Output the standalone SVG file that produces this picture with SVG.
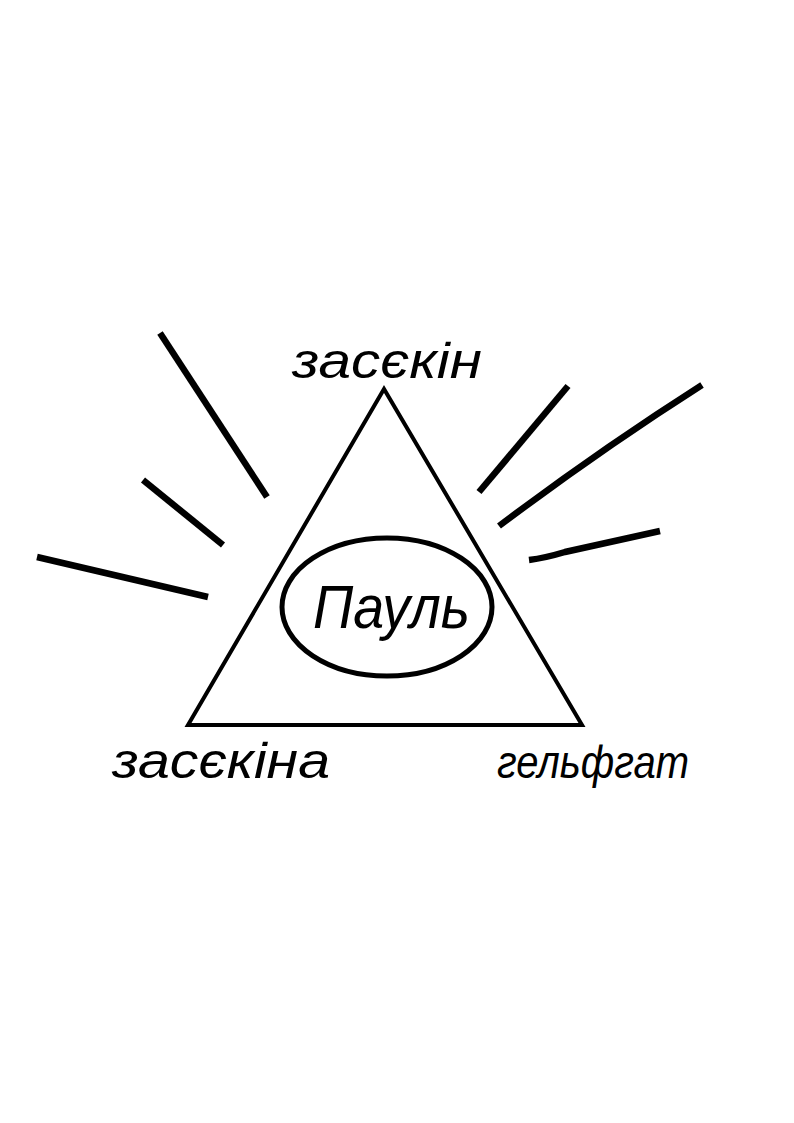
<svg xmlns="http://www.w3.org/2000/svg" width="794" height="1123" viewBox="0 0 794 1123">
<style>
.ray{fill:none;stroke:#000;stroke-width:6.5;stroke-linecap:butt}
.shape{fill:none;stroke:#000}
.hand{font-family:"Liberation Sans","DejaVu Sans",sans-serif;font-style:italic;fill:#000}
</style>
<rect width="794" height="1123" fill="#fff"/>
<g id="rays">
<path class="ray" d="M160,333 L267,497"/>
<path class="ray" d="M143,480 L223,545"/>
<path class="ray" d="M37,557 L208,597"/>
<path class="ray" d="M568,386 L479,492"/>
<path class="ray" d="M702,385 Q600,450 499,526"/>
<path class="ray" d="M660,531 L565,552 Q545,558 529,560"/>
</g>
<g id="triangle">
<polygon class="shape" stroke-width="4" points="384,389 188,725 582,725"/>
</g>
<g id="center">
<ellipse class="shape" stroke-width="5" cx="387" cy="607" rx="105" ry="69"/>
<text class="hand" x="313" y="628" font-size="62" textLength="157" lengthAdjust="spacingAndGlyphs">Пауль</text>
</g>
<g id="top">
<text class="hand" x="292" y="378" font-size="50" textLength="190" lengthAdjust="spacingAndGlyphs">засєкін</text>
</g>
<g id="left">
<text class="hand" x="112" y="778" font-size="50" textLength="218" lengthAdjust="spacingAndGlyphs">засєкіна</text>
</g>
<g id="right">
<text class="hand" x="497" y="778" font-size="46" textLength="192" lengthAdjust="spacingAndGlyphs">гельфгат</text>
</g>
</svg>
